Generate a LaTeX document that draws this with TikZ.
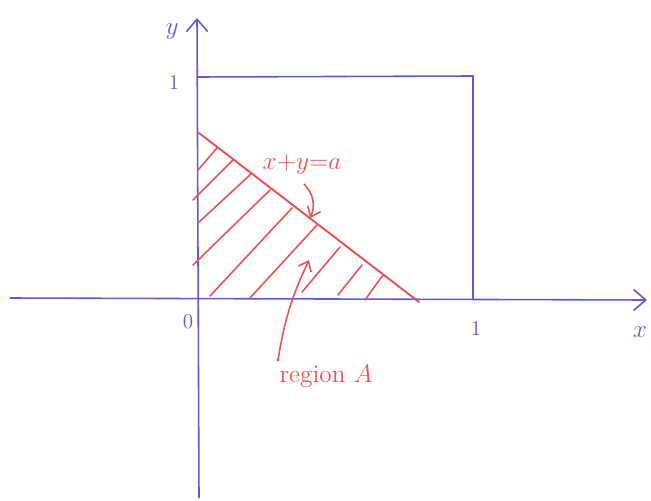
\documentclass[tikz,border=0pt]{standalone}
\usepackage{amsmath}
\usepackage{tikz}
\usetikzlibrary{arrows.meta,positioning,calc}
\definecolor{penblue}{RGB}{95,90,215}
\definecolor{penred}{RGB}{232,82,82}

\begin{document}
\begin{tikzpicture}[x=0.02cm,y=-0.02cm,
    axis/.style={draw=penblue,line width=0.9pt,-{Straight Barb[length=7pt,width=12pt]}},
    boxline/.style={draw=penblue,line width=0.9pt},
    tick/.style={text=penblue,font=\large},
    hatch/.style={draw=penred,line width=0.9pt,line cap=round},
    note/.style={text=penred,font=\Large},
    pointer/.style={draw=penred,line width=0.9pt,-{Straight Barb[length=5pt,width=8pt]}}]
    \useasboundingbox (0,0) rectangle (651,500);
    % axes
    \coordinate (xs) at (10,298);
    \coordinate (xe) at (647,300);
    \coordinate (ys) at (199,498);
    \coordinate (ye) at (197,18);
    \draw[axis] (xs) -- (xe);
    \draw[axis] (ys) -- (ye);
    \node[text=penblue,font=\Large] (ylab) at (172,32) {$y$};
    \node[text=penblue,font=\Large] (xlab) at (640,332) {$x$};
    \node[tick] (one-y) at (174,82) {1};
    \node[tick] (one-x) at (476,328) {1};
    \node[tick] (zero) at (188,322) {0};
    % unit square
    \coordinate (sq-tl) at (198,77);
    \coordinate (sq-tr) at (473,76);
    \coordinate (sq-br) at (473,300);
    \draw[boxline] (sq-tl) -- (sq-tr) -- (sq-br);
    % line x+y=a
    \coordinate (la) at (199,133);
    \coordinate (lb) at (419,302);
    \draw[hatch,line width=1.1pt] (la) -- (lb);
    % hatching of region A
    \foreach \ax/\ay/\bx/\by in {198/170/217/148, 193/200/233/160, 198/223/252/173,
        193/265/270/190, 210/296/292/208, 250/298/317/225, 302/292/340/247,
        338/295/362/265, 365/300/383/275}
        \draw[hatch] (\ax,\ay) -- (\bx,\by);
    % labels
    \node[note] (eq) at (302,165) {$x{+}y{=}a$};
    \coordinate (eq-tip) at (310,218);
    \draw[pointer] (304,184) to[bend left=35] (eq-tip);
    \node[note] (regA) at (326,376) {region $A$};
    \coordinate (regA-dot) at (278,360);
    \coordinate (regA-tip) at (309,260);
    \fill[penred] (regA-dot) circle (1.6);
    \draw[pointer] (regA-dot) to[bend left=8] (regA-tip);
\end{tikzpicture}
\end{document}
